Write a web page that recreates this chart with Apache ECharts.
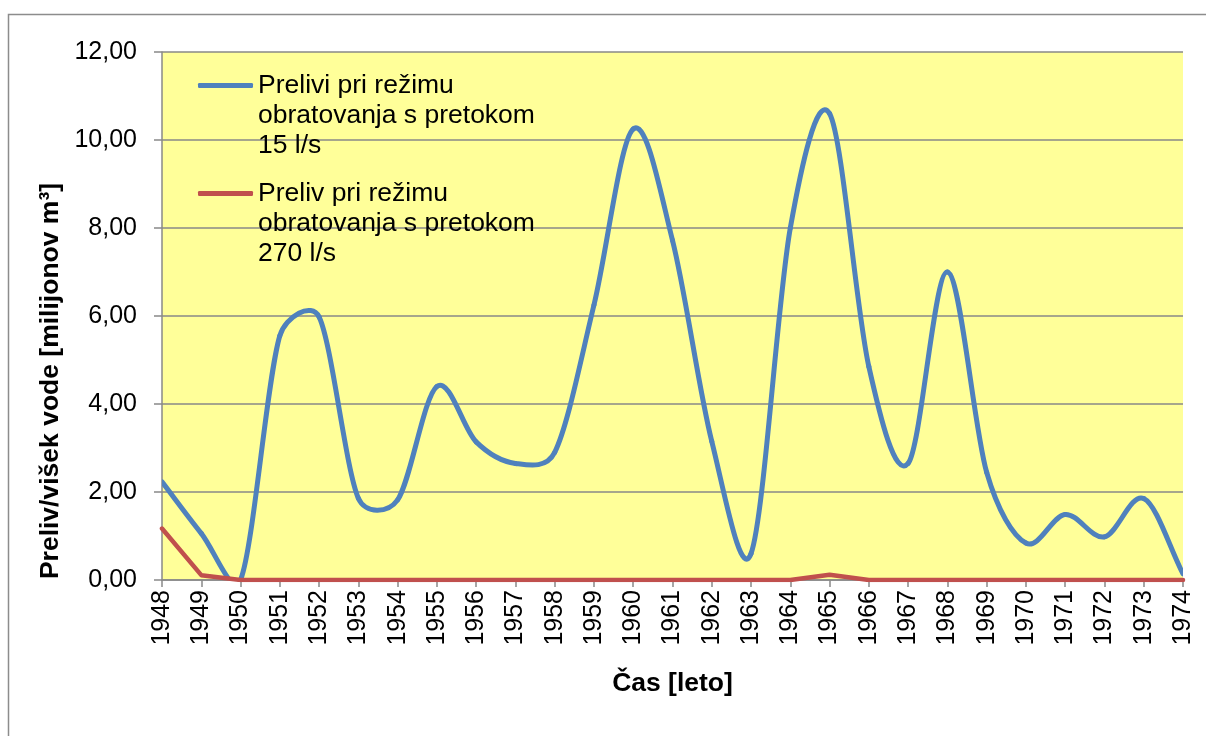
<!DOCTYPE html>
<html>
<head>
<meta charset="utf-8">
<script src="https://cdn.jsdelivr.net/npm/echarts@6/dist/echarts.min.js"></script>
<style>
  html, body { margin: 0; padding: 0; background: #fff; }
  #main { width: 1206px; height: 736px; }
</style>
</head>
<body>
<div id="main"></div>
<script>
// leta
var years = ["1948", "1949", "1950", "1951", "1952", "1953", "1954", "1955", "1956",
  "1957", "1958", "1959", "1960", "1961", "1962", "1963", "1964", "1965", "1966",
  "1967", "1968", "1969", "1970", "1971", "1972", "1973", "1974"];
// preliv pri 15 l/s
var preliv15 = [2.23, 1.06, 0.0, 5.55, 5.98, 1.86, 1.82, 4.4, 3.14, 2.65, 2.9, 6.25,
  10.25, 7.72, 3.15, 0.6, 8.0, 10.6, 4.85, 2.65, 7.0, 2.45, 0.84, 1.49, 0.98, 1.85, 0.14];
// preliv pri 270 l/s
var preliv270 = [1.17, 0.11, 0.0, 0, 0, 0, 0, 0, 0, 0, 0, 0, 0, 0, 0, 0, 0, 0.12, 0,
  0, 0, 0, 0, 0, 0, 0, 0];
var yTicks = [0, 2, 4, 6, 8, 10, 12];

var imena = [
  "Prelivi pri režimu\nobratovanja s pretokom\n15 l/s",
  "Preliv pri režimu\nobratovanja s pretokom\n270 l/s"
];

var font = "Liberation Sans, Arial, sans-serif";
var sivo = "#898989";
var modra = "#4F81BD";
var rdeca = "#C0504D";

var myChart = echarts.init(document.getElementById("main"));

// legenda: ikona poravnana s prvo vrstico besedila (dve prazni vrstici zgoraj)
function legenda(ime, center) {
  return {
    data: [ime],
    orient: "vertical",
    left: 198,
    top: center - 75,
    padding: 0,
    icon: "roundRect",
    itemWidth: 55,
    itemHeight: 5,
    formatter: function (name) { return "\n\n" + name; },
    textStyle: {
      fontFamily: font,
      fontSize: 26.5,
      lineHeight: 30,
      color: "#000"
    }
  };
}

// glajena krivulja kot v Excelu (bezier med sosednjimi tockami)
function gladkaCrta(params, api) {
  var i = params.dataIndexInside;
  var n = params.dataInsideLength;
  if (i >= n - 1) return;
  function tocka(k) {
    k = Math.max(0, Math.min(n - 1, k));
    return api.coord([api.value(0, k), api.value(1, k)]);
  }
  var p0 = tocka(i - 1), p1 = tocka(i), p2 = tocka(i + 1), p3 = tocka(i + 2);
  var f = 0.5;
  function dist(a, b) { return Math.sqrt((a[0] - b[0]) * (a[0] - b[0]) + (a[1] - b[1]) * (a[1] - b[1])); }
  var d01 = dist(p0, p1), d12 = dist(p1, p2), d23 = dist(p2, p3);
  var r1 = (d01 + d12) ? d12 / (d01 + d12) : 0;
  var r2 = (d12 + d23) ? d12 / (d12 + d23) : 0;
  var h1 = [(p2[0] - p0[0]) * f * r1, (p2[1] - p0[1]) * f * r1];
  var h2 = [(p3[0] - p1[0]) * f * r2, (p3[1] - p1[1]) * f * r2];
  // rocica ne sme preseci tretjine segmenta po x
  var maxX = Math.abs(p2[0] - p1[0]) / 3;
  function omeji(h) {
    var ax = Math.abs(h[0]);
    if (ax > maxX && ax > 0) { var s = maxX / ax; return [h[0] * s, h[1] * s]; }
    return h;
  }
  h1 = omeji(h1);
  h2 = omeji(h2);
  return {
    type: "bezierCurve",
    shape: {
      x1: p1[0], y1: p1[1], x2: p2[0], y2: p2[1],
      cpx1: p1[0] + h1[0], cpy1: p1[1] + h1[1],
      cpx2: p2[0] - h2[0], cpy2: p2[1] - h2[1]
    },
    style: { stroke: modra, lineWidth: 5, fill: null, lineCap: "round", lineJoin: "round" }
  };
}

var option = {
  backgroundColor: "#fff",
  animation: false,
  textStyle: { fontFamily: font },
  grid: {
    left: 162,
    right: 23,
    top: 52,
    bottom: 156,
    show: true,
    backgroundColor: "#FFFF99",
    borderWidth: 0,
    containLabel: false,
    outerBoundsMode: "none"
  },
  legend: [legenda(imena[0], 85.5), legenda(imena[1], 193.5)],
  xAxis: {
    type: "category",
    data: years,
    boundaryGap: false,
    name: "Čas [leto]",
    nameLocation: "middle",
    nameGap: 90,
    nameTextStyle: { fontFamily: font, fontSize: 26.5, fontWeight: "bold", color: "#000" },
    axisLine: { lineStyle: { color: sivo, width: 1.5 } },
    axisTick: { show: true, length: 7, lineStyle: { color: sivo, width: 1.5 } },
    axisLabel: { interval: 0, rotate: 90, fontSize: 25, color: "#000", margin: 10, fontFamily: font },
    splitLine: { show: false }
  },
  yAxis: {
    type: "value",
    min: yTicks[0],
    max: yTicks[yTicks.length - 1],
    interval: 2,
    axisLine: { show: true, lineStyle: { color: sivo, width: 1.5 } },
    axisTick: { show: true, length: 8, lineStyle: { color: sivo, width: 1.5 } },
    axisLabel: {
      fontSize: 25,
      color: "#000",
      margin: 25,
      fontFamily: font,
      formatter: function (v) { return v.toFixed(2).replace(".", ","); }
    },
    splitLine: { show: true, lineStyle: { color: sivo, width: 1.5 } }
  },
  series: [
    {
      name: imena[0],
      type: "custom",
      data: years.map(function (y, i) { return [y, preliv15[i]]; }),
      encode: { x: 0, y: 1 },
      clip: true,
      itemStyle: { color: modra },
      renderItem: gladkaCrta
    },
    {
      name: imena[1],
      type: "line",
      data: preliv270,
      smooth: false,
      symbol: "none",
      itemStyle: { color: rdeca },
      lineStyle: { color: rdeca, width: 4.5, cap: "round", join: "round" }
    }
  ],
  graphic: [
    {
      type: "rect",
      silent: true,
      shape: { x: 8.5, y: 14.5, width: 1400, height: 900 },
      style: { fill: "none", stroke: "#8c8c8c", lineWidth: 1.5 }
    },
    {
      type: "text",
      x: 51,
      y: 381,
      rotation: Math.PI / 2,
      style: {
        text: "Preliv/višek vode [milijonov m³]",
        font: "bold 26.5px " + font,
        fill: "#000",
        align: "center",
        verticalAlign: "middle"
      }
    }
  ]
};

myChart.setOption(option);
</script>
</body>
</html>
